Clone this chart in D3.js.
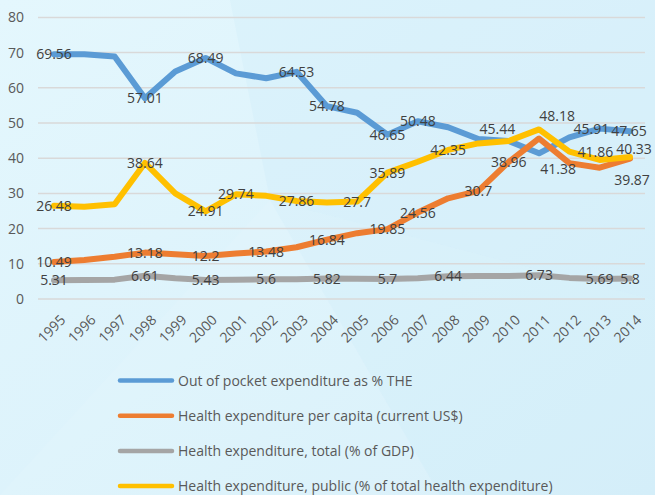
<!DOCTYPE html>
<html>
<head>
<meta charset="utf-8">
<script src="https://cdn.jsdelivr.net/npm/d3@7"></script>
<style>
  html, body { margin: 0; padding: 0; }
  body { width: 655px; height: 495px; overflow: hidden; }
  svg text { font-family: "Open Sans", "Liberation Sans", Arial, sans-serif; }
</style>
</head>
<body>
<div id="chart"></div>
<script>
const years = d3.range(1995, 2015);

const outOfPocket = [69.56, 69.5, 68.9, 57.01, 64.6, 68.49, 64.1, 62.7, 64.53, 54.78,
                     52.9, 46.65, 50.48, 48.8, 45.44, 44.9, 41.38, 45.91, 48.4, 47.65];
const perCapita   = [10.49, 11.1, 12.0, 13.18, 12.7, 12.2, 12.9, 13.48, 14.7, 16.84,
                     18.7, 19.85, 24.56, 28.6, 30.7, 38.96, 45.6, 38.6, 37.3, 39.87];
const totalGdp    = [5.31, 5.4, 5.5, 6.61, 5.9, 5.43, 5.5, 5.6, 5.6, 5.82,
                     5.75, 5.7, 5.9, 6.44, 6.5, 6.5, 6.73, 6.0, 5.69, 5.8];
const publicShare = [26.48, 26.2, 26.9, 38.64, 30.0, 24.91, 29.74, 29.3, 27.86, 27.4,
                     27.7, 35.89, 39.0, 42.35, 44.2, 44.9, 48.18, 41.86, 39.5, 40.33];

const seriesNames = [
  "Out of pocket expenditure as % THE",
  "Health expenditure per capita (current US$)",
  "Health expenditure, total (% of GDP)",
  "Health expenditure, public (% of total health expenditure)"
];

// which years carry a data label, per series
const labelledYears = [
  [1995, 1998, 2000, 2003, 2004, 2006, 2007, 2009, 2011, 2012, 2014],
  [1995, 1998, 2000, 2002, 2004, 2006, 2007, 2009, 2010, 2014],
  [1995, 1998, 2000, 2002, 2004, 2006, 2008, 2011, 2013, 2014],
  [1995, 1998, 2000, 2001, 2003, 2005, 2006, 2008, 2011, 2012, 2014]
];

const yTicks = [0, 10, 20, 30, 40, 50, 60, 70, 80];

const colors = ["#5B9BD5", "#ED7D31", "#A5A5A5", "#FFC000"];

// manual label nudges (series index + year -> [dx, dy])
const nudge = {
  "0-2009": [19, -10], "0-2011": [19, 16], "0-2012": [22, -8], "0-2014": [-1, 0],
  "1-2014": [2, 21],
  "3-2011": [18, -13], "3-2012": [26, 0], "3-2014": [4, -8]
};

const W = 655, H = 495;
const svg = d3.select("#chart").append("svg")
  .attr("width", W).attr("height", H);

// background
const defs = svg.append("defs");
const grad = defs.append("linearGradient").attr("id", "bg")
  .attr("x1", "0").attr("y1", "0").attr("x2", "1").attr("y2", "1");
grad.append("stop").attr("offset", "0%").attr("stop-color", "#e4f7fd");
grad.append("stop").attr("offset", "100%").attr("stop-color", "#d6effa");
svg.append("rect").attr("width", W).attr("height", H).attr("fill", "url(#bg)");
svg.append("polygon")
  .attr("points", "230,0 655,0 655,300 270,200")
  .attr("fill", "#cdeaf8").attr("opacity", 0.3);
svg.append("polygon")
  .attr("points", "0,495 270,200 440,495")
  .attr("fill", "#ffffff").attr("opacity", 0.08);
svg.append("polygon")
  .attr("points", "270,200 655,300 655,495 440,495")
  .attr("fill", "#cbe9f7").attr("opacity", 0.15);

const x = d3.scalePoint().domain(years).range([54, 630]);
const y = d3.scaleLinear().domain([0, 80]).range([299, 17.4]);

// gridlines
svg.append("g").selectAll("line").data(yTicks).join("line")
  .attr("x1", 38).attr("x2", 645)
  .attr("y1", d => y(d)).attr("y2", d => y(d))
  .attr("stroke", "#d9d9d9").attr("stroke-width", 1.5);

// y axis labels
const yAxis = svg.append("g")
  .attr("transform", "translate(24,0)")
  .call(d3.axisLeft(y).tickValues(yTicks).tickSize(0).tickPadding(0));
yAxis.select(".domain").remove();
yAxis.selectAll("text")
  .attr("font-size", 14).attr("fill", "#595959")
  .style("font-family", "'Open Sans', 'Liberation Sans', Arial, sans-serif");

// x axis labels, rotated
const xAxis = svg.append("g")
  .attr("transform", "translate(0,304)")
  .call(d3.axisBottom(x).tickSize(0).tickPadding(0));
xAxis.select(".domain").remove();
xAxis.selectAll("text")
  .attr("font-size", 14).attr("fill", "#595959")
  .style("font-family", "'Open Sans', 'Liberation Sans', Arial, sans-serif")
  .attr("text-anchor", "end")
  .attr("dy", "0.7em")
  .attr("transform", "translate(5,10) rotate(-45)");

const allSeries = [outOfPocket, perCapita, totalGdp, publicShare];

const line = d3.line()
  .x((d, i) => x(years[i]))
  .y(d => y(d));

allSeries.forEach((vals, s) => {
  svg.append("path")
    .datum(vals)
    .attr("fill", "none")
    .attr("stroke", colors[s])
    .attr("stroke-width", 6)
    .attr("stroke-linejoin", "round")
    .attr("stroke-linecap", "round")
    .attr("d", line);
});

// data labels
const labelG = svg.append("g");
allSeries.forEach((vals, s) => {
  labelledYears[s].forEach(yr => {
    const i = years.indexOf(yr);
    const off = nudge[s + "-" + yr] || [0, 0];
    labelG.append("text")
      .attr("x", x(yr) + off[0])
      .attr("y", y(vals[i]) + off[1])
      .attr("dy", "0.36em")
      .attr("text-anchor", "middle")
      .attr("font-size", 14)
      .attr("fill", "#404040")
      .text(vals[i]);
  });
});

// legend
const legend = svg.append("g");
seriesNames.forEach((name, s) => {
  const ly = 380.5 + s * 35.2;
  legend.append("line")
    .attr("x1", 120).attr("x2", 172)
    .attr("y1", ly).attr("y2", ly)
    .attr("stroke", colors[s]).attr("stroke-width", 4.5)
    .attr("stroke-linecap", "round");
  legend.append("text")
    .attr("x", 178).attr("y", ly)
    .attr("dy", "0.36em")
    .attr("font-size", 14)
    .attr("fill", "#595959")
    .text(name);
});
</script>
</body>
</html>
